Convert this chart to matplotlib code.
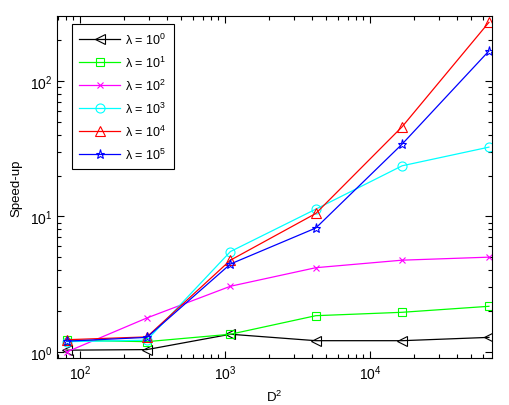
import matplotlib
matplotlib.use("Agg")
import matplotlib.pyplot as plt
from matplotlib.ticker import NullFormatter

plt.rcParams['font.family'] = ['Liberation Sans', 'DejaVu Sans']
plt.rcParams['mathtext.fontset'] = 'custom'
plt.rcParams['mathtext.rm'] = 'Liberation Sans'
plt.rcParams['mathtext.it'] = 'Liberation Sans:italic'

D2 = [81, 289, 1089, 4225, 16641, 66049]
lam0 = [1.03, 1.04, 1.35, 1.21, 1.21, 1.28]
lam1 = [1.22, 1.19, 1.35, 1.85, 1.96, 2.17]
lam2 = [1.00, 1.78, 3.05, 4.18, 4.75, 5.0]
lam3 = [1.19, 1.22, 5.5, 11.3, 23.6, 32.4]
lam4 = [1.23, 1.29, 4.75, 10.5, 45.8, 270]
lam5 = [1.20, 1.28, 4.45, 8.2, 34.1, 166]
labels = [r'λ = $\mathregular{10^{0}}$', r'λ = $\mathregular{10^{1}}$',
          r'λ = $\mathregular{10^{2}}$', r'λ = $\mathregular{10^{3}}$',
          r'λ = $\mathregular{10^{4}}$', r'λ = $\mathregular{10^{5}}$']

series = [lam0, lam1, lam2, lam3, lam4, lam5]
colors = ['black', '#00ff00', '#ff00ff', '#00ffff', '#ff0000', '#0000ff']
markers = ['<', 's', 'x', 'o', '^', '*']
msizes = [6.5, 6, 4, 6.5, 6.5, 6.5]

fig = plt.figure(figsize=(5.10, 4.06), dpi=100)
ax = fig.add_axes([0.1124, 0.115, 0.9641 - 0.1124, 0.9574 - 0.115])

for ys, c, m, ms, lab in zip(series, colors, markers, msizes, labels):
    ax.plot(D2, ys, color=c, marker=m, markersize=ms, markerfacecolor='none',
            markeredgecolor=c, markeredgewidth=0.8, linewidth=0.9, label=lab)

ax.set_xscale('log')
ax.set_yscale('log')
ax.set_xlim(69.7, 69000)
ax.set_ylim(0.897, 299)

ax.tick_params(which='both', direction='in', top=True, right=True, labelsize=10)
ax.tick_params(which='major', length=5, width=0.8)
ax.tick_params(which='minor', length=3, width=0.8)
ax.xaxis.set_minor_formatter(NullFormatter())
ax.yaxis.set_minor_formatter(NullFormatter())
for s in ax.spines.values():
    s.set_linewidth(0.8)

ax.set_xlabel(r'$\mathregular{D^2}$', fontsize=9.5, labelpad=5)
ax.set_ylabel('Speed-up', fontsize=9.5, labelpad=5)

leg = ax.legend(loc='upper left', bbox_to_anchor=(0.033, 0.977), borderaxespad=0,
                fontsize=9, handlelength=3.3, labelspacing=0.62, fancybox=False,
                framealpha=1, edgecolor='black', borderpad=0.6, handletextpad=0.4)
leg.get_frame().set_linewidth(0.8)

fig.savefig('out.png', dpi=100)
